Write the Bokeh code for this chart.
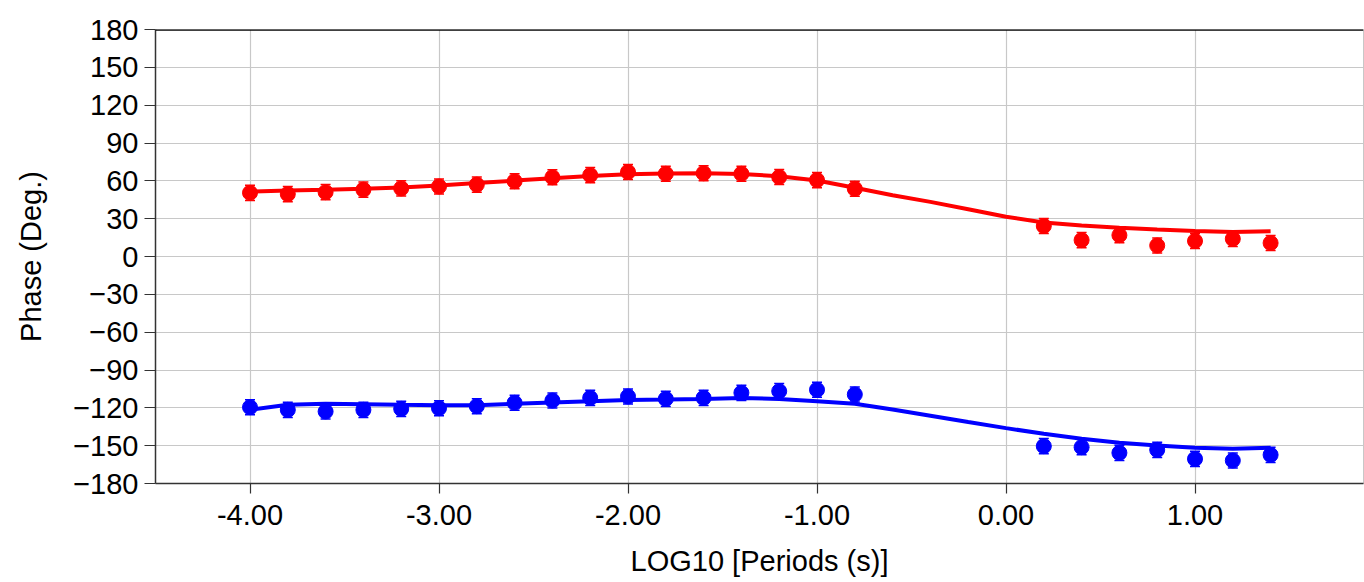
from bokeh.plotting import figure
from bokeh.models import ColumnDataSource, Whisker, TeeHead, FixedTicker, NumeralTickFormatter, Span, Range1d
from bokeh.embed import file_html
from bokeh.resources import INLINE

# ---- data ----
log_period = [-4.0, -3.8, -3.6, -3.4, -3.2, -3.0, -2.8, -2.6, -2.4, -2.2, -2.0, -1.8,
              -1.6, -1.4, -1.2, -1.0, -0.8, 0.2, 0.4, 0.6, 0.8, 1.0, 1.2, 1.4]
phase_red = [50.5, 49.5, 51.0, 53.0, 54.0, 55.5, 57.0, 59.7, 62.8, 64.5, 67.0, 65.6,
             66.0, 65.6, 63.0, 60.6, 53.7, 24.2, 13.0, 16.9, 8.7, 12.3, 14.0, 10.7]
phase_blue = [-119.5, -121.6, -122.9, -121.6, -120.8, -120.3, -118.7, -116.0, -114.2, -112.1, -111.0, -112.9,
              -112.1, -108.1, -106.8, -105.7, -109.4, -150.4, -151.2, -155.7, -153.3, -160.5, -161.8, -157.3]
phase_err = [6.0] * len(log_period)

model_log_period = [-4.0, -3.8, -3.6, -3.4, -3.2, -3.0, -2.8, -2.6, -2.4, -2.2, -2.0, -1.8, -1.6, -1.4,
                    -1.2, -1.0, -0.8, -0.6, -0.4, -0.2, 0.0, 0.2, 0.4, 0.6, 0.8, 1.0, 1.2, 1.4]
model_red = [51.5, 52.3, 52.9, 53.8, 54.8, 56.3, 58.2, 60.2, 62.0, 63.8, 65.2, 65.8, 66.0, 65.5,
             63.6, 60.3, 54.5, 48.6, 43.3, 37.5, 31.5, 27.0, 24.6, 22.8, 21.4, 20.2, 19.5, 20.0]
model_blue = [-121.6, -117.6, -116.8, -117.1, -117.6, -117.9, -117.9, -116.8, -115.8, -114.7, -113.7, -113.4, -112.9, -112.3,
              -112.9, -114.7, -116.8, -121.3, -126.3, -131.3, -136.1, -140.6, -144.6, -147.7, -149.9, -151.7, -152.5, -151.7]

x_ticks = [-4, -3, -2, -1, 0, 1]
y_ticks = [-180, -150, -120, -90, -60, -30, 0, 30, 60, 90, 120, 150, 180]

FONT = "Liberation Sans"
RED = "#FF0000"
BLUE = "#0000FF"
GRID = "#C8C8C8"

p = figure(width=1364, height=582, output_backend="svg", toolbar_location=None,
           x_range=Range1d(-4.5, 1.8915), y_range=Range1d(-180, 180),
           min_border_left=155, min_border_right=1, min_border_top=29, min_border_bottom=99)
p.outline_line_color = GRID
p.outline_line_width = 1

for ax in (p.xaxis[0], p.yaxis[0]):
    ax.axis_line_color = "#333333"
    ax.axis_line_width = 1.5
    ax.major_tick_line_color = "#333333"
    ax.major_tick_line_width = 1.2
    ax.major_tick_in = 0
    ax.minor_tick_line_color = None
    ax.major_label_text_font = FONT
    ax.major_label_text_font_size = "29px"
    ax.major_label_text_color = "black"
    ax.axis_label_text_font = FONT
    ax.axis_label_text_font_size = "29px"
    ax.axis_label_text_font_style = "normal"
    ax.axis_label_text_color = "black"

p.xaxis.ticker = FixedTicker(ticks=x_ticks)
p.xaxis.formatter = NumeralTickFormatter(format="0.00")
p.xaxis.major_tick_out = 10
p.xaxis.major_label_standoff = 11
p.xaxis.axis_label = "LOG10 [Periods (s)]"
p.xaxis.axis_label_standoff = 17

p.yaxis.ticker = FixedTicker(ticks=y_ticks)
p.yaxis.major_tick_out = 11
p.yaxis.major_label_standoff = 6
p.yaxis.axis_label = "Phase (Deg.)"
p.yaxis.axis_label_standoff = 23

p.xgrid.ticker = FixedTicker(ticks=x_ticks)
p.ygrid.ticker = FixedTicker(ticks=y_ticks)
p.grid.grid_line_color = GRID
p.grid.grid_line_width = 1.2

p.add_layout(Span(location=180, dimension="width", line_color="black", line_width=2.5))

# model curves
p.line(model_log_period, model_red, line_color=RED, line_width=4)
p.line(model_log_period, model_blue, line_color=BLUE, line_width=4)

# observed points with error bars
for vals, col in ((phase_red, RED), (phase_blue, BLUE)):
    src = ColumnDataSource(dict(
        x=log_period, y=vals,
        lo=[v - e for v, e in zip(vals, phase_err)],
        hi=[v + e for v, e in zip(vals, phase_err)]))
    w = Whisker(base="x", lower="lo", upper="hi", source=src, line_color=col, line_width=1.5,
                upper_head=TeeHead(size=10, line_color=col, line_width=1.5),
                lower_head=TeeHead(size=10, line_color=col, line_width=1.5))
    p.add_layout(w)
    p.scatter("x", "y", source=src, size=15, fill_color=col, line_color=col, marker="circle")

open("out.html", "w").write(file_html(p, INLINE))
